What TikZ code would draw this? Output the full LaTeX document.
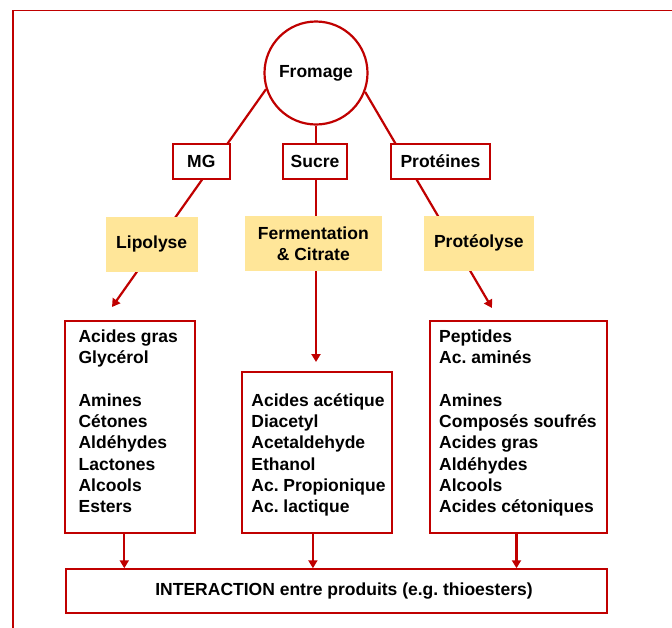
\documentclass[tikz,border=0pt]{standalone}
\usepackage{fontspec}
\setmainfont{Liberation Sans}
\usetikzlibrary{arrows.meta,backgrounds,calc}
\definecolor{dred}{RGB}{192,0,0}
\definecolor{lyel}{RGB}{255,230,153}
\frenchspacing
\begin{document}
\begin{tikzpicture}[x=1pt,y=-1pt,
  every node/.style={font=\fontsize{17.5}{21}\selectfont\bfseries, inner sep=0pt},
  redbox/.style={draw=dred, line width=2.2pt, fill=white, rectangle},
  yelbox/.style={fill=lyel, rectangle, align=center, minimum height=54.7pt},
  conn/.style={draw=dred, line width=2.2pt},
  arr/.style={conn, -{Triangle[length=8pt,width=9pt]}},
  listline/.style={anchor=base west}
]
\useasboundingbox (0,0) rectangle (672,627);
\begin{pgfonlayer}{background}
\fill[white] (0,0) rectangle (672,627);
\end{pgfonlayer}
\draw[dred, line width=1.4pt] (13,700) -- (13,10.5) -- (700,10.5);

% top nodes
\node[circle, draw=dred, line width=2.2pt, fill=white, minimum size=103pt] (fromage) at (316,73) {Fromage};
\node[redbox, minimum width=56.6pt, minimum height=35.6pt] (mg) at (201.3,161.5) {MG};
\node[redbox, minimum width=64.3pt, minimum height=35.6pt] (sucre) at (315,161.5) {Sucre};
\node[redbox, minimum width=98.7pt, minimum height=35.6pt] (prot) at (440.4,161.5) {Protéines};

\node[yelbox, minimum width=91.7pt] (lipo) at (151.7,244.3) {Lipolyse};
\node[yelbox, minimum width=136.5pt] (ferm) at (313.3,243.3) {Fermentation\\\& Citrate};
\node[yelbox, minimum width=109.6pt] (proteo) at (478.8,243.3) {Protéolyse};

% result boxes
\node[redbox, minimum width=130.4pt, minimum height=212pt] (lbox) at (130.1,427) {};
\node[redbox, minimum width=149.7pt, minimum height=161pt] (mbox) at (316.8,452.5) {};
\node[redbox, minimum width=177.2pt, minimum height=212pt] (rbox) at (518.2,427) {};
\node[redbox, minimum width=541.1pt, minimum height=43.7pt] (inter) at (336.3,591.2) {};
\node (intertext) at (344,591.2) {INTERACTION entre produits (e.g. thioesters)};

\foreach \t/\r in {Acides gras/1, Glycérol/2, Amines/4, Cétones/5, Aldéhydes/6, Lactones/7, Alcools/8, Esters/9}
  \node[listline] (la\r) at (78.4,{342.5+(\r-1)*21.25}) {\t};
\foreach \t/\r in {Acides acétique/4, Diacetyl/5, Acetaldehyde/6, Ethanol/7, Ac. Propionique/8, Ac. lactique/9}
  \node[listline] (ma\r) at (251.2,{342.5+(\r-1)*21.25}) {\t};
\foreach \t/\r in {Peptides/1, Ac. aminés/2, Amines/4, Composés soufrés/5, Acides gras/6, Aldéhydes/7, Alcools/8, Acides cétoniques/9}
  \node[listline] (ra\r) at (439,{342.5+(\r-1)*21.25}) {\t};

\coordinate (tipL) at (112,307);
\coordinate (tipM) at (316,362);
\coordinate (tipR) at (492,308);

\begin{pgfonlayer}{background}
\draw[arr] (fromage.198) -- (tipL);
\draw[arr] (fromage.south) -- (tipM);
\draw[arr] (fromage.339) -- (tipR);
\end{pgfonlayer}

\draw[arr] ([xshift=-5.8pt]lbox.south) -- ([xshift=-5.8pt]lbox.south |- inter.north);
\draw[arr] ([xshift=-3.9pt]mbox.south) -- ([xshift=-3.9pt]mbox.south |- inter.north);
\draw[arr] ([xshift=-1.7pt]rbox.south) -- ([xshift=-1.7pt]rbox.south |- inter.north);
\end{tikzpicture}
\end{document}
